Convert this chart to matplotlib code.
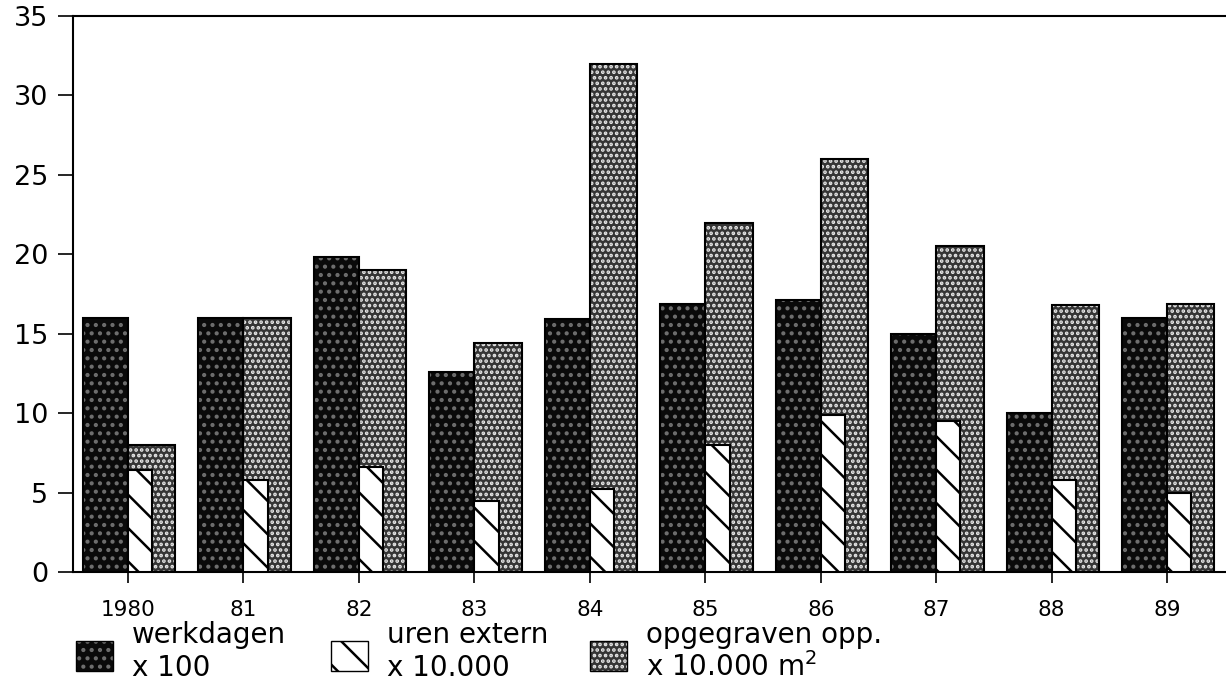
import numpy as np
import matplotlib
matplotlib.use('Agg')
import matplotlib.pyplot as plt
from matplotlib.patches import Rectangle

years = ['1980', '81', '82', '83', '84', '85', '86', '87', '88', '89']
werkdagen = [16.0, 16.0, 19.8, 12.6, 15.9, 16.9, 17.1, 15.0, 10.0, 16.0]
uren_extern = [6.4, 5.8, 6.6, 4.5, 5.2, 8.0, 9.9, 9.5, 5.8, 5.0]
opgegraven = [8.0, 16.0, 19.0, 14.4, 32.0, 22.0, 26.0, 20.5, 16.8, 16.9]

plt.rcParams['font.family'] = ['DejaVu Sans']
plt.rcParams['hatch.linewidth'] = 1.8

fig = plt.figure(figsize=(12.26, 6.87), dpi=100)
ax = fig.add_axes([0.0595, 0.1674, 0.9405, 0.8093])

x = np.arange(len(years))
dark_fc, dark_dots, dark_hatch = '#0a0a0a', '#6e6e6e', '..'
light_fc, light_dots, light_hatch = '#353535', '#e8e8e8', '...'

# dark stippled bars (left of tick)
ax.bar(x, werkdagen, width=-0.39, align='edge', color=dark_fc, hatch=dark_hatch,
       edgecolor=dark_dots, linewidth=0, zorder=2)
ax.bar(x, werkdagen, width=-0.39, align='edge', fill=False,
       edgecolor='black', linewidth=1.5, zorder=3)
# light stippled bars (right of tick)
ax.bar(x, opgegraven, width=0.41, align='edge', color=light_fc, hatch=light_hatch,
       edgecolor=light_dots, linewidth=0, zorder=2)
ax.bar(x, opgegraven, width=0.41, align='edge', fill=False,
       edgecolor='black', linewidth=1.5, zorder=3)
# hatched bars in front
ax.bar(x, uren_extern, width=0.21, align='edge', color='white', hatch='\\',
       edgecolor='black', linewidth=1.5, zorder=4)

ax.set_xlim(-0.477, 9.51)
ax.set_ylim(0, 35)
ax.set_yticks(range(0, 36, 5))
ax.set_xticks(x)
ax.set_xticklabels(years)
ax.tick_params(axis='y', labelsize=19.5, length=11, width=1.2, pad=7)
ax.tick_params(axis='x', labelsize=15.5, length=8, width=1.2, pad=12)
for s in ['left', 'bottom', 'top']:
    ax.spines[s].set_linewidth(1.5)
ax.spines['right'].set_visible(False)

# legend below the axes
def swatch(x0, y0, **kw):
    r = Rectangle((x0 / 1226, 1 - y0 / 687), 37 / 1226, 30 / 687,
                  transform=fig.transFigure, **kw)
    fig.add_artist(r)

swatch(76, 671, facecolor=dark_fc, hatch=dark_hatch, edgecolor=dark_dots, linewidth=0)
swatch(76, 671, fill=False, edgecolor='black', linewidth=1)
swatch(331, 671, facecolor='white', hatch='\\', edgecolor='black', linewidth=1)
swatch(590, 671, facecolor=light_fc, hatch=light_hatch, edgecolor=light_dots, linewidth=0)
swatch(590, 671, fill=False, edgecolor='black', linewidth=1)

labels = [(132, 'werkdagen', 'x 100'),
          (387, 'uren extern', 'x 10.000'),
          (646, 'opgegraven opp.', 'x 10.000 m$^2$')]
for xp, l1, l2 in labels:
    fig.text(xp / 1226, 1 - 643 / 687, l1, fontsize=20, va='baseline', ha='left')
    fig.text(xp / 1226, 1 - 676 / 687, l2, fontsize=20, va='baseline', ha='left')

fig.savefig('out.png', dpi=100)
